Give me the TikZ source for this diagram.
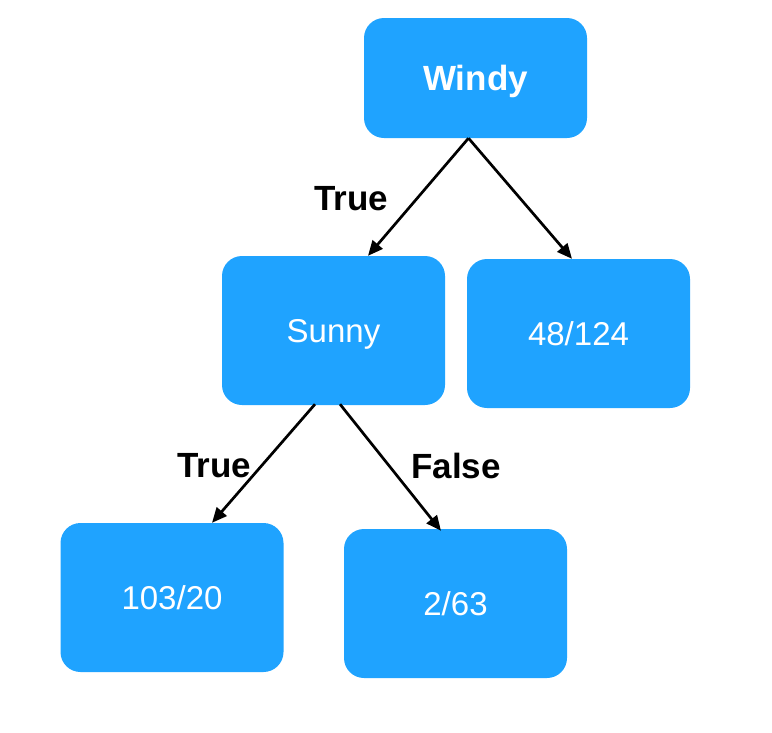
\documentclass[tikz,border=0pt]{standalone}
\usepackage{fontspec}
\setmainfont{Liberation Sans}
\usetikzlibrary{arrows.meta}
\definecolor{treeblue}{RGB}{31,163,255}

\begin{document}
\begin{tikzpicture}[x=1pt,y=-1pt,
        box/.style={fill=treeblue,text=white,rounded corners=20pt,inner sep=0pt,
            minimum width=223pt,minimum height=149pt,text depth=0pt},
        rootbox/.style={box,minimum height=120pt,font=\fontsize{35}{42}\selectfont\bfseries,text height=25pt},
        leafbox/.style={box,font=\fontsize{33}{40}\selectfont,text height=23.6pt},
        branch/.style={font=\fontsize{35}{42}\selectfont\bfseries},
        edge/.style={line width=2.7pt,-{Triangle[length=15pt,width=13pt]}}]
        \useasboundingbox (0,0) rectangle (772,732);
        \node[rootbox](W)  at (475.5,78) {Windy};
        \node[leafbox](S)  at (333.5,330.5) {Sunny};
        \node[leafbox](L1) at (578.5,333.5) {48/124};
        \node[leafbox](L2) at (172,597.5) {103/20};
        \node[leafbox](L3) at (455.5,603.5) {2/63};
        \node[branch](T1) at (351,198.5) {True};
        \node[branch](T2) at (214,465.5) {True};
        \node[branch](F2) at (456,465.5) {False};
        \draw[edge]([xshift=-7pt]W.south) -- ([xshift=34.5pt]S.north);
        \draw[edge]([xshift=-7pt]W.south) -- ([xshift=-6.5pt]L1.north);
        \draw[edge]([xshift=-18.5pt,yshift=1pt]S.south) -- ([xshift=40pt]L2.north);
        \draw[edge]([xshift=6.5pt,yshift=1pt]S.south) -- ([xshift=-14.5pt,yshift=-2pt]L3.north);
    \end{tikzpicture}
\end{document}
